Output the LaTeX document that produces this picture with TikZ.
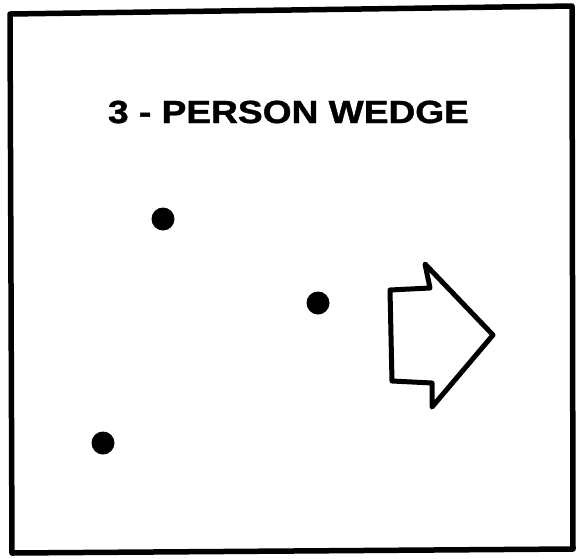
\documentclass[tikz,border=0pt]{standalone}
\usepackage{fontspec}
\setmainfont{Liberation Sans}
\newfontfamily\titlefont[FakeBold=1.2]{Liberation Sans Bold}
\begin{document}
\begin{tikzpicture}[x=1pt,y=-1pt,
  frame/.style={line width=5.5pt,line join=round},
  person/.style={circle,fill=black,inner sep=0pt,minimum size=23pt},
  bigarrow/.style={line width=5pt,line join=round},
  title/.style={font=\fontsize{32}{38}\titlefont,inner sep=0pt,anchor=base}]
\useasboundingbox (0,0) rectangle (579,558);
\draw[frame] (10,14) -- (572,6) -- (573,549) -- (12,553) -- cycle;
\node[title] (t) at (288.5,123) {\scalebox{1.16}[1]{3 - PERSON WEDGE}};
\node[person] (p1) at (163,219) {};
\node[person] (p2) at (318,303) {};
\node[person] (p3) at (103,443) {};
\draw[bigarrow] (425,264) -- (493,335) -- (432,407) -- (432,383) -- (392,381) -- (390,290) -- (430,288) -- cycle;
\end{tikzpicture}
\end{document}
